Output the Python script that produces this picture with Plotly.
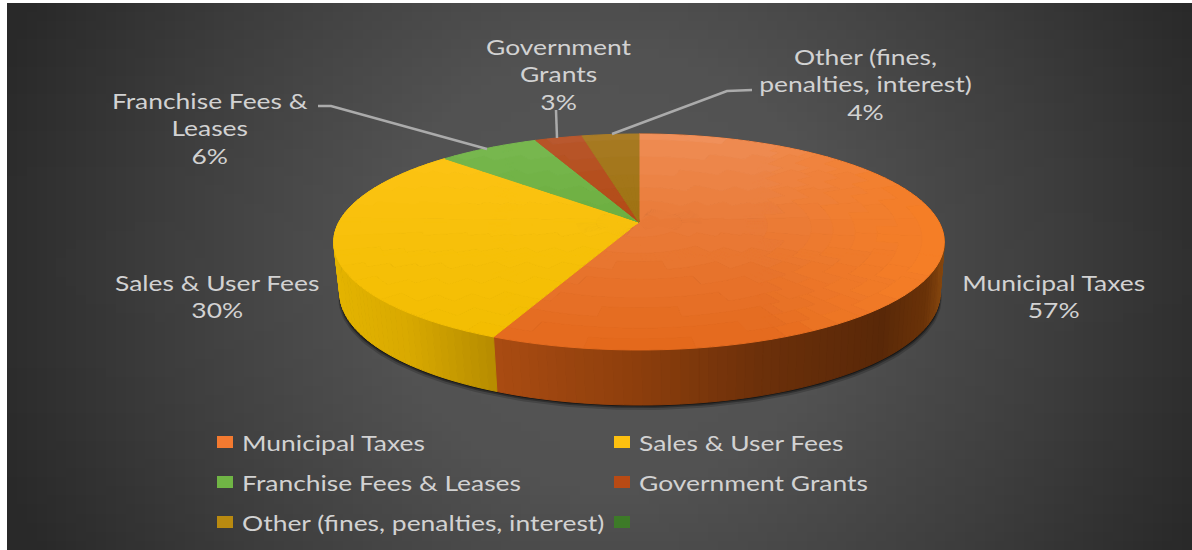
import math
import numpy as np
import plotly.graph_objects as go

# ---- data -------------------------------------------------------------
categories = ["Municipal Taxes", "Sales & User Fees", "Franchise Fees & Leases",
              "Government Grants", "Other (fines, penalties, interest)"]
shares = [56.6, 30.4, 6.4, 3.0, 3.6]
legend_names = categories + [""]

label_lines = [["Municipal Taxes"], ["Sales & User Fees"], ["Franchise Fees &", "Leases"],
               ["Government", "Grants"], ["Other (fines,", "penalties, interest)"]]

# ---- style ------------------------------------------------------------
FONT = "Lato"
FS = 21
TXT = "#d2d2d2"
legend_colors = ["#f47a30", "#fdc010", "#70b545", "#b84a14", "#b98a10", "#3d7a28"]
top_colors = [("#f0905a", "#e4691c"), ("#ffc51a", "#f2bd00"), ("#7cba54", "#5ea52e"),
              ("#b9582e", "#ae3f00"), ("#a97c26", "#966a00")]
wall_stops = {
    0: [(490, "#ab4c12"), (640, "#8c3e0c"), (760, "#6c300a"), (880, "#592808"), (925, "#6a3208"), (945, "#8a4a10")],
    1: [(335, "#e4b400"), (410, "#d8a900"), (500, "#b48a00")],
}
label_pos = [(1053, 282), (217, 282), (210, 100), (559, 46), (865, 56)]
leaders = [[(318, 106), (331, 106), (487, 149)],
           [(556, 110), (557, 138)],
           [(752, 90), (727, 91), (612, 134)]]
legend_pos = [(217, 442), (614, 442), (217, 482), (614, 482), (217, 522), (614, 522)]

# geometry of the tilted disc
X0, Y0, A, B, K = 639.0, 222.0, 300.0, 104.3, 0.185
X0W, Y0W, AW, BW = 640.0, 272.5, 295.0, 108.0


def hex2rgb(h):
    return [int(h[i:i + 2], 16) for i in (1, 3, 5)]


def mix(c1, c2, t):
    a, b = hex2rgb(c1), hex2rgb(c2)
    t = max(0.0, min(1.0, t))
    return tuple(int(round(p + (q - p) * t)) for p, q in zip(a, b))


def rim(r, th, x0=X0, y0=Y0, a=A, b=B):
    u, v = r * math.sin(th), r * math.cos(th)
    w = 1 + K * v
    return x0 + a * u / w, y0 - b * v / w


def ramp(stops, x):
    if x <= stops[0][0]:
        return hex2rgb(stops[0][1])
    for (x1, c1), (x2, c2) in zip(stops, stops[1:]):
        if x <= x2:
            return mix(c1, c2, (x - x1) / (x2 - x1))
    return hex2rgb(stops[-1][1])


fig = go.Figure()

# background glow (cell centres placed so the outer cell edges fall on the panel edge)
NX, NY = 120, 60
dx, dy = (1192 - 7) / NX, (550 - 3) / NY
gx = 7 + dx * (np.arange(NX) + 0.5)
gy = 3 + dy * (np.arange(NY) + 0.5)
GX, GY = np.meshgrid(gx, gy)
D = np.minimum(1.0, np.sqrt(((GX - 610) / 640) ** 2 + ((GY - 270) / 620) ** 2))
fig.add_trace(go.Heatmap(x=gx, y=gy, z=D, zmin=0, zmax=1, showscale=False, hoverinfo="skip",
                         colorscale=[[0, "#555555"], [0.35, "#525252"], [0.7, "#3d3d3d"], [1, "#292929"]]))

# slice boundaries from the values
total = sum(shares)
edges = [0.0]
for s in shares:
    edges.append(edges[-1] + s / total * 2 * math.pi)


def add_group(groups):
    for col, (xs, ys) in groups.items():
        c = "rgb(%d,%d,%d)" % tuple(col)
        fig.add_trace(go.Scatter(x=xs, y=ys, mode="lines", fill="toself", fillcolor=c,
                                 line=dict(color=c, width=1), hoverinfo="skip", showlegend=False))


# soft shadow under the disc
for off, alpha in [(5, 0.18), (3, 0.3), (1.5, 0.45)]:
    ths = np.linspace(0, 2 * math.pi, 240)
    pts = [rim(1.0, t, X0W, Y0W + off, AW + off * 0.3, BW) for t in ths]
    fig.add_trace(go.Scatter(x=[p[0] for p in pts], y=[p[1] for p in pts], mode="lines", fill="toself",
                             fillcolor="rgba(0,0,0,%g)" % alpha, line=dict(width=0),
                             hoverinfo="skip", showlegend=False))

# side wall, painted strip by strip
wall_groups = {}
for i, stops in wall_stops.items():
    a0, a1 = edges[i], edges[i + 1]
    n = max(2, int((a1 - a0) / math.radians(1.5)))
    for j in range(n):
        t0 = a0 + (a1 - a0) * j / n
        t1 = a0 + (a1 - a0) * (j + 1) / n
        p = [rim(1, t0), rim(1, t1), rim(1, t1, X0W, Y0W, AW, BW), rim(1, t0, X0W, Y0W, AW, BW)]
        col = tuple(ramp(stops, sum(q[0] for q in p) / 4))
        xs, ys = wall_groups.setdefault(col, ([], []))
        xs += [q[0] for q in p] + [p[0][0], None]
        ys += [q[1] for q in p] + [p[0][1], None]
add_group(wall_groups)

# top face: each wedge in small cells, shaded by screen height
NR = 14
for i, (c_top, c_bot) in enumerate(top_colors):
    a0, a1 = edges[i], edges[i + 1]
    n = max(3, int((a1 - a0) / math.radians(2.5)))
    groups = {}
    for j in range(n):
        t0 = a0 + (a1 - a0) * j / n
        t1 = a0 + (a1 - a0) * (j + 1) / n
        for k in range(NR):
            r0, r1 = k / NR, (k + 1) / NR
            p = [rim(r0, t0), rim(r1, t0), rim(r1, t1), rim(r0, t1)]
            ym = sum(q[1] for q in p) / 4
            xm = sum(q[0] for q in p) / 4
            lev = round(((ym - 134) / 216) * 14) / 14
            col = mix(c_top, c_bot, lev ** 0.7 if lev > 0 else 0)
            if i == 0 and xm > 760:
                glow = round((xm - 760) / 170 * 6) / 6
                col = tuple(round(c + (g - c) * min(1, glow)) for c, g in zip(col, hex2rgb("#f57e26")))
            xs, ys = groups.setdefault(col, ([], []))
            xs += [q[0] for q in p] + [p[0][0], None]
            ys += [q[1] for q in p] + [p[0][1], None]
    add_group(groups)

# data labels
annotations = []
for lines, s, (cx, cy) in zip(label_lines, shares, label_pos):
    txt = "<br>".join(lines + ["%d%%" % round(s / total * 100)])
    annotations.append(dict(x=cx, y=cy - 14, xref="x", yref="y", text=txt, showarrow=False,
                            xanchor="center", yanchor="top", align="center",
                            font=dict(family=FONT, size=FS, color=TXT)))

shapes = []
# leader lines
for seg in leaders:
    path = "M " + " L ".join("%g,%g" % q for q in seg)
    shapes.append(dict(type="path", path=path, xref="x", yref="y",
                       line=dict(color="#ababab", width=2.5)))

# legend
for name, col, (lx, ly) in zip(legend_names, legend_colors, legend_pos):
    shapes.append(dict(type="rect", x0=lx, x1=lx + 16, y0=ly - 6, y1=ly + 6, xref="x", yref="y",
                       fillcolor=col, line=dict(width=0)))
    if name:
        annotations.append(dict(x=lx + 23, y=ly, xref="x", yref="y", text=name, showarrow=False,
                                xanchor="left", yanchor="middle",
                                font=dict(family=FONT, size=FS, color=TXT)))

fig.update_layout(width=1192, height=550, margin=dict(l=0, r=0, t=0, b=0),
                  paper_bgcolor="white", plot_bgcolor="white", showlegend=False,
                  xaxis=dict(range=[0, 1192], visible=False, fixedrange=True),
                  yaxis=dict(range=[550, 0], visible=False, fixedrange=True),
                  annotations=annotations, shapes=shapes)

# the reference text is horizontally stretched: widen the rendered text the same way
stretch_js = """
document.body.style.margin='0';document.body.style.overflow='hidden';
(function(){
  var nodes=[].slice.call(document.querySelectorAll('.annotation-text'));
  var ref=nodes.filter(function(n){return n.textContent==='Municipal Taxes';})[0];
  var f=ref?183/ref.getBBox().width:1.2;
  nodes.forEach(function(n){
    var b=n.getBBox();
    var c=n.textContent.indexOf('%')>=0?b.x+b.width/2:b.x;
    n.setAttribute('transform','translate('+c+',0) scale('+f+',1) translate('+(-c)+',0)');
  });
})();
"""
fig.write_html("out.html", config={"displayModeBar": False}, post_script=stretch_js)
